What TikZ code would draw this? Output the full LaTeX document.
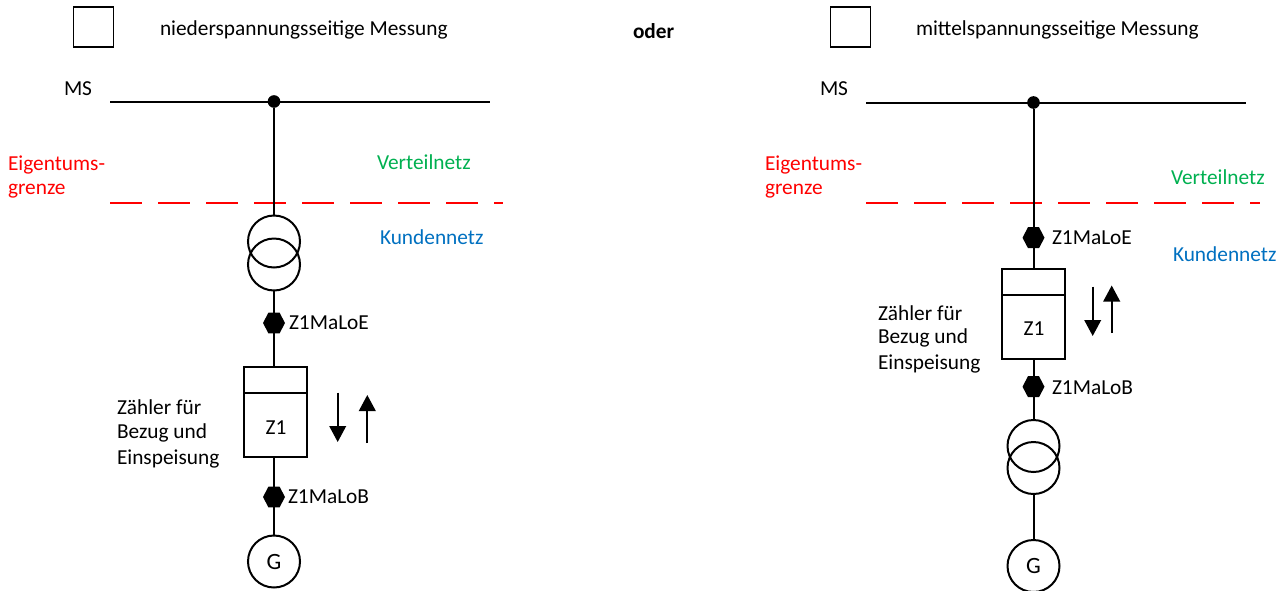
\documentclass[tikz,border=0pt]{standalone}
\usepackage{fontspec}
\setmainfont{Carlito}
\usetikzlibrary{shapes.geometric,arrows.meta}
\definecolor{grn}{HTML}{00B050}
\definecolor{blu}{HTML}{0070C0}
\tikzset{
  lbl/.style={anchor=west,inner sep=0pt,outer sep=0pt,font=\fontsize{16pt}{19pt}\selectfont},
  ctr/.style={inner sep=0pt,outer sep=0pt,font=\fontsize{16pt}{19pt}\selectfont},
  wire/.style={line width=1.5pt,black},
  thin wire/.style={line width=1.3pt,black},
  ring/.style={circle,draw=black,line width=1.5pt,minimum size=39pt,inner sep=0pt,outer sep=0pt},
  hexa/.style={regular polygon,regular polygon sides=6,fill=black,draw=none,minimum size=16.5pt,inner sep=0pt,outer sep=0pt,transform shape,yscale=1.1},
  dotj/.style={circle,fill=black,minimum size=9.5pt,inner sep=0pt,outer sep=0pt},
  sq/.style={rectangle,draw=black,line width=1.3pt,minimum width=30pt,minimum height=29.5pt,inner sep=0pt,outer sep=0pt},
  meter/.style={rectangle,draw=black,line width=1.3pt,minimum width=47.5pt,minimum height=67pt,inner sep=0pt,outer sep=0pt},
  red dash/.style={draw=red,line width=1.3pt,dash pattern=on 24pt off 12pt},
  flow/.style={line width=1.3pt,black,-{Triangle[length=12pt,width=12.5pt]}}
}
\begin{document}
\begin{tikzpicture}[x=0.75pt,y=-0.75pt]
\useasboundingbox (0,0) rectangle (1282,590);
% property boundaries
\coordinate (r1L) at (110,203);
\coordinate (r2L) at (503,203);
\draw[red dash] (r1L) -- (r2L);
\coordinate (r1R) at (866,203);
\coordinate (r2R) at (1260,203);
\draw[red dash] (r1R) -- (r2R);
% left
\node[sq] (sqL) at (93.5,27) {};
\node[lbl] (tL) at (160,30) {niederspannungsseitige Messung};
\node[lbl,font=\fontsize{16pt}{19pt}\selectfont\bfseries] (oder) at (633,31) {oder};
\node[lbl] (msL) at (64,89) {MS};
\coordinate (b1L) at (110,101.5);
\coordinate (b2L) at (490,101.5);
\draw[wire] (b1L) -- (b2L);
\node[dotj] (jL) at (274,101.5) {};
\node[lbl,red] (e1L) at (8,165) {Eigentums-};
\node[lbl,red] (e2L) at (8,191) {grenze};
\node[lbl,grn] (vL) at (377,162) {Verteilnetz};
\node[lbl,blu] (kL) at (380,237) {Kundennetz};
\node[ring] (t1L) at (274,241.5) {};
\node[ring] (t2L) at (274,264.5) {};
\node[hexa] (h1L) at (274,323) {};
\node[lbl] (h1tL) at (289,323) {Z1MaLoE};
\node[meter] (mL) at (275.5,412) {};
\coordinate (d1L) at (243.8,393.3);
\coordinate (d2L) at (307.2,393.3);
\draw[thin wire] (d1L) -- (d2L);
\node[ctr] (zL) at (276,428) {Z1};
\node[hexa] (h2L) at (274,497) {};
\node[lbl] (h2tL) at (288,497) {Z1MaLoB};
\node[ring] (gL) at (274,561.5) {\fontsize{17.5pt}{20pt}\selectfont G};
\draw[wire] (jL) -- (t1L.north);
\draw[wire] (t2L.south) -- (h1L);
\draw[wire] (h1L) -- (274,367.5);
\draw[wire] (274,456.5) -- (h2L);
\draw[wire] (h2L) -- (gL.north);
\node[lbl] (z1L) at (117,407) {Zähler für};
\node[lbl] (z2L) at (117,433) {Bezug und};
\node[lbl] (z3L) at (117,459) {Einspeisung};
\coordinate (a1L) at (337.7,392.5);
\coordinate (a2L) at (337.7,442);
\coordinate (a3L) at (367.3,443);
\coordinate (a4L) at (367.3,395);
\draw[flow] (a1L) -- (a2L);
\draw[flow] (a3L) -- (a4L);
% right
\node[sq] (sqR) at (850.5,27) {};
\node[lbl] (tR) at (916,30) {mittelspannungsseitige Messung};
\node[lbl] (msR) at (820,89) {MS};
\coordinate (b1R) at (866,102.5);
\coordinate (b2R) at (1246,102.5);
\draw[wire] (b1R) -- (b2R);
\node[dotj] (jR) at (1033.5,102.5) {};
\node[lbl,red] (e1R) at (765,165) {Eigentums-};
\node[lbl,red] (e2R) at (765,191) {grenze};
\node[lbl,grn] (vR) at (1171,177) {Verteilnetz};
\node[lbl,blu] (kR) at (1173,254) {Kundennetz};
\node[hexa] (h1R) at (1033.5,237.7) {};
\node[lbl] (h1tR) at (1052,238) {Z1MaLoE};
\node[meter,minimum height=67.5pt] (mR) at (1033.5,314) {};
\coordinate (d1R) at (1001.6,295);
\coordinate (d2R) at (1065.4,295);
\draw[thin wire] (d1R) -- (d2R);
\node[ctr] (zR) at (1034,329) {Z1};
\node[hexa] (h2R) at (1033.5,386.7) {};
\node[lbl] (h2tR) at (1052,388) {Z1MaLoB};
\node[ring] (t1R) at (1033.5,446) {};
\node[ring] (t2R) at (1033.5,468) {};
\node[ring] (gR) at (1033.5,566) {\fontsize{17.5pt}{20pt}\selectfont G};
\draw[wire] (jR) -- (h1R);
\draw[wire] (h1R) -- (mR.north);
\draw[wire] (mR.south) -- (h2R);
\draw[wire] (h2R) -- (t1R.north);
\draw[wire] (t2R.south) -- (gR.north);
\node[lbl] (z1R) at (878,313) {Zähler für};
\node[lbl] (z2R) at (878,338) {Bezug und};
\node[lbl] (z3R) at (878,364) {Einspeisung};
\coordinate (a1R) at (1092.7,286.5);
\coordinate (a2R) at (1092.7,336);
\coordinate (a3R) at (1111.7,333);
\coordinate (a4R) at (1111.7,285.5);
\draw[flow] (a1R) -- (a2R);
\draw[flow] (a3R) -- (a4R);
\end{tikzpicture}
\end{document}
